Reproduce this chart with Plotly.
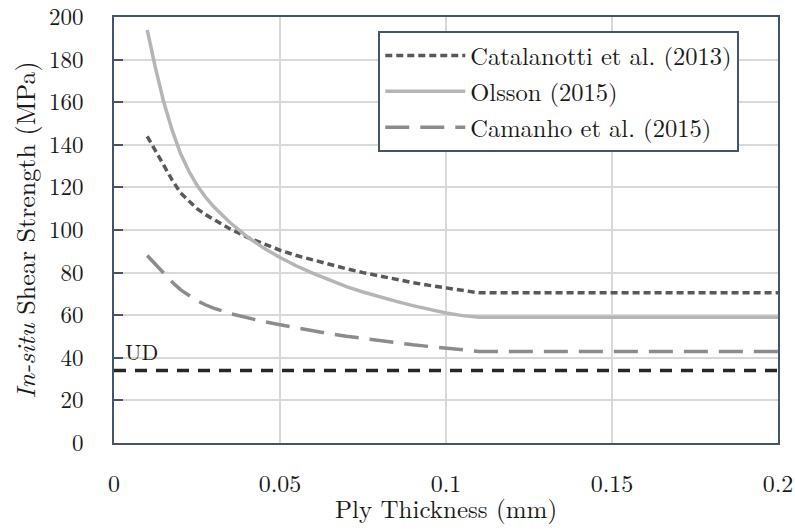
import plotly.graph_objects as go

t = [0.01, 0.0125, 0.015, 0.0175, 0.02, 0.0225, 0.025, 0.0275, 0.03, 0.035,
     0.04, 0.045, 0.05, 0.055, 0.06, 0.065, 0.07, 0.075, 0.08, 0.085,
     0.09, 0.095, 0.1, 0.105, 0.11, 0.2]
catalanotti = [144, 137, 130, 123.5, 117.5, 113.5, 110, 107.3, 104.9, 100.5,
               96.7, 93.4, 90.5, 88, 85.8, 83.7, 81.8, 80, 78.3, 76.8,
               75.3, 74, 72.8, 71.6, 70.5, 70.5]
olsson = [194, 176, 160, 147, 136, 127.8, 121, 115.6, 111, 103.4,
          97, 91.6, 87.1, 83.1, 79.6, 76.4, 73.4, 70.9, 68.6, 66.5,
          64.5, 62.7, 61, 59.8, 59, 59]
camanho = [88, 83.7, 79.5, 75.6, 72, 69.2, 66.8, 64.9, 63.3, 60.8,
           58.8, 57, 55.5, 54, 52.6, 51.3, 50.1, 49, 48, 47,
           46.1, 45.3, 44.6, 43.8, 43, 43]
ud_t = [0.0, 0.2]
ud = [34, 34]

FONT = "Latin Modern Roman"
EDGE = "#44546A"
GRID = "#d9d9d9"
TXT = "#1a1a1a"

fig = go.Figure()
fig.add_trace(go.Scatter(x=t, y=catalanotti, mode="lines", name="Catalanotti et al. (2013)",
                         legendgroup="a",
                         line=dict(color="#595959", width=3.5, dash="7px,4px")))
fig.add_trace(go.Scatter(x=t, y=olsson, mode="lines", name="Olsson (2015)",
                         legendgroup="b",
                         line=dict(color="#b5b5b5", width=3.5)))
fig.add_trace(go.Scatter(x=t, y=camanho, mode="lines", name="Camanho et al. (2015)",
                         legendgroup="c",
                         line=dict(color="#8c8c8c", width=3.5, dash="24px,11px")))
fig.add_trace(go.Scatter(x=ud_t, y=ud, mode="lines", name="UD", showlegend=False,
                         line=dict(color="#262626", width=3.5, dash="12px,9px")))

fig.add_annotation(x=0.0028, y=43.6, text="UD", showarrow=False, xanchor="left",
                   yanchor="middle", font=dict(family=FONT, size=22, color=TXT))
fig.add_annotation(x=0.5, y=-0.152, xref="paper", yref="paper", text="Ply Thickness (mm)",
                   showarrow=False, xanchor="center", yanchor="middle",
                   font=dict(family=FONT, size=25, color=TXT))

fig.update_layout(
    width=795, height=530,
    margin=dict(l=114, r=17, t=17, b=87, autoexpand=False),
    paper_bgcolor="white", plot_bgcolor="white",
    font=dict(family=FONT, size=24, color=TXT),
    showlegend=True,
    legend=dict(x=0.398, y=0.967, xanchor="left", yanchor="top",
                bgcolor="white", bordercolor=EDGE, borderwidth=2,
                font=dict(family=FONT, size=24.5, color=TXT),
                tracegroupgap=1, itemwidth=80),
)
fig.update_xaxes(range=[0, 0.2], tickvals=[0, 0.05, 0.1, 0.15, 0.2],
                 ticktext=["0", "0.05", "0.1", "0.15", "0.2"],
                 tickfont=dict(family=FONT, size=24), automargin=False,
                 showgrid=True, gridcolor=GRID, gridwidth=1.5,
                 showline=True, linecolor=EDGE, linewidth=2, mirror=True,
                 ticks="", ticklabelstandoff=18, zeroline=False,
                 ticklabeloverflow="allow")
fig.update_yaxes(range=[0, 200], dtick=20,
                 tickfont=dict(family=FONT, size=23), automargin=False,
                 showgrid=True, gridcolor=GRID, gridwidth=1.5,
                 showline=True, linecolor=EDGE, linewidth=2, mirror=True,
                 ticks="inside", ticklen=9, tickwidth=2, tickcolor=EDGE,
                 ticklabelstandoff=24, zeroline=False,
                 ticklabeloverflow="allow",
                 title=dict(text="<i>In-situ</i> Shear Strength (MPa)", standoff=6,
                            font=dict(family=FONT, size=26)))

fig.write_html("out.html")
